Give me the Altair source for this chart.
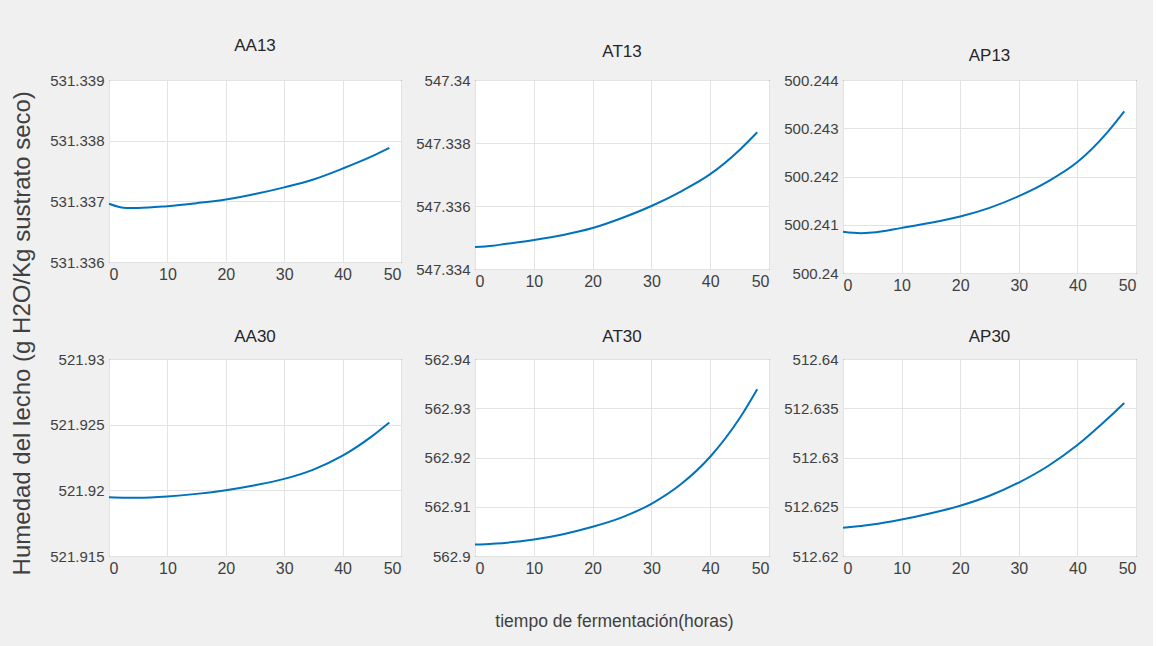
import altair as alt
import pandas as pd

# ---------------- data ----------------
hours = [0, 3, 5, 10, 15, 20, 25, 30, 35, 40, 45, 48]

aa13 = [531.33696, 531.33689, 531.33689, 531.33692, 531.33697, 531.33703,
        531.33712, 531.33723, 531.33736, 531.33754, 531.33774, 531.33788]
at13 = [547.33470, 547.33474, 547.33479, 547.33492, 547.33508, 547.33530,
        547.33562, 547.33600, 547.33646, 547.33701, 547.33778, 547.33834]
ap13 = [500.240855, 500.240825, 500.240838, 500.240935, 500.241040, 500.241170,
        500.241350, 500.241593, 500.241900, 500.242300, 500.242900, 500.243350]
aa30 = [521.91948, 521.91944, 521.91943, 521.91953, 521.91973, 521.92001,
        521.92039, 521.92087, 521.92158, 521.92264, 521.92411, 521.92517]
at30 = [562.90232, 562.90250, 562.90266, 562.90334, 562.90443, 562.90593,
        562.90785, 562.91060, 562.91456, 562.92016, 562.92796, 562.93387]
ap30 = [512.62286, 512.62305, 512.62319, 512.62370, 512.62434, 512.62511,
        512.62612, 512.62746, 512.62914, 512.63126, 512.63385, 512.63553]

titles = ["AA13", "AT13", "AP13", "AA30", "AT30", "AP30"]
series = [aa13, at13, ap13, aa30, at30, ap30]
y_ticks = [
    [531.336, 531.337, 531.338, 531.339],
    [547.334, 547.336, 547.338, 547.340],
    [500.240, 500.241, 500.242, 500.243, 500.244],
    [521.915, 521.920, 521.925, 521.930],
    [562.90, 562.91, 562.92, 562.93, 562.94],
    [512.620, 512.625, 512.630, 512.635, 512.640],
]
x_ticks = [0, 10, 20, 30, 40, 50]
x_title = "tiempo de fermentación(horas)"
y_title = "Humedad del lecho (g H2O/Kg sustrato seco)"

# ---------------- styling ----------------
FONT = "Liberation Sans, Arial, sans-serif"
LINE = "#0072BD"
TXT = "#404040"

widths = [292, 294, 293, 292, 294, 293]
heights = [182, 189, 193, 197, 197, 197]
offsets = [18, 12, 8, 6, 6, 6]


def panel(i):
    df = pd.DataFrame({"t": hours, "v": series[i]})
    ticks = y_ticks[i]
    return alt.Chart(df).mark_line(
        color=LINE, strokeWidth=2, interpolate="monotone"
    ).encode(
        x=alt.X("t:Q", scale=alt.Scale(domain=[0, 50], nice=False, zero=False),
                axis=alt.Axis(values=x_ticks, title=None, format="d",
                              minExtent=22, maxExtent=22)),
        y=alt.Y("v:Q", scale=alt.Scale(domain=[ticks[0], ticks[-1]], nice=False, zero=False),
                axis=alt.Axis(values=ticks, title=None, format="~f",
                              minExtent=62, maxExtent=62)),
    ).properties(
        width=widths[i], height=heights[i],
        title=alt.TitleParams(titles[i], offset=offsets[i]),
    )


row1 = alt.hconcat(panel(0), panel(1), panel(2), spacing=10)
row2 = alt.hconcat(panel(3), panel(4), panel(5), spacing=10)

inner = alt.vconcat(
    row1, row2, spacing=31,
    title=alt.TitleParams(x_title, orient="bottom", anchor="middle",
                          fontSize=17.5, font=FONT, color=TXT, fontWeight="normal",
                          offset=34, dx=23),
)

chart = alt.hconcat(
    inner,
    title=alt.TitleParams(y_title, orient="left", anchor="middle",
                          fontSize=24, font=FONT,
                          color=TXT, fontWeight="normal", offset=12),
).properties(
    background="#f0f0f0",
    padding={"left": 10, "top": 36, "right": 16, "bottom": 17},
).configure_view(
    stroke="#262626", strokeWidth=1, fill="white"
).configure_axis(
    labelFont=FONT, labelFontSize=15, labelColor=TXT,
    domain=False, ticks=False, labelPadding=5,
    grid=True, gridColor="#e3e3e3", gridWidth=1,
).configure_axisX(
    labelPadding=4, labelFontSize=16,
).configure_title(
    font=FONT, fontSize=17, color="#262626", fontWeight="normal",
)

chart.save("out.html", embed_options={"renderer": "svg", "actions": False})
